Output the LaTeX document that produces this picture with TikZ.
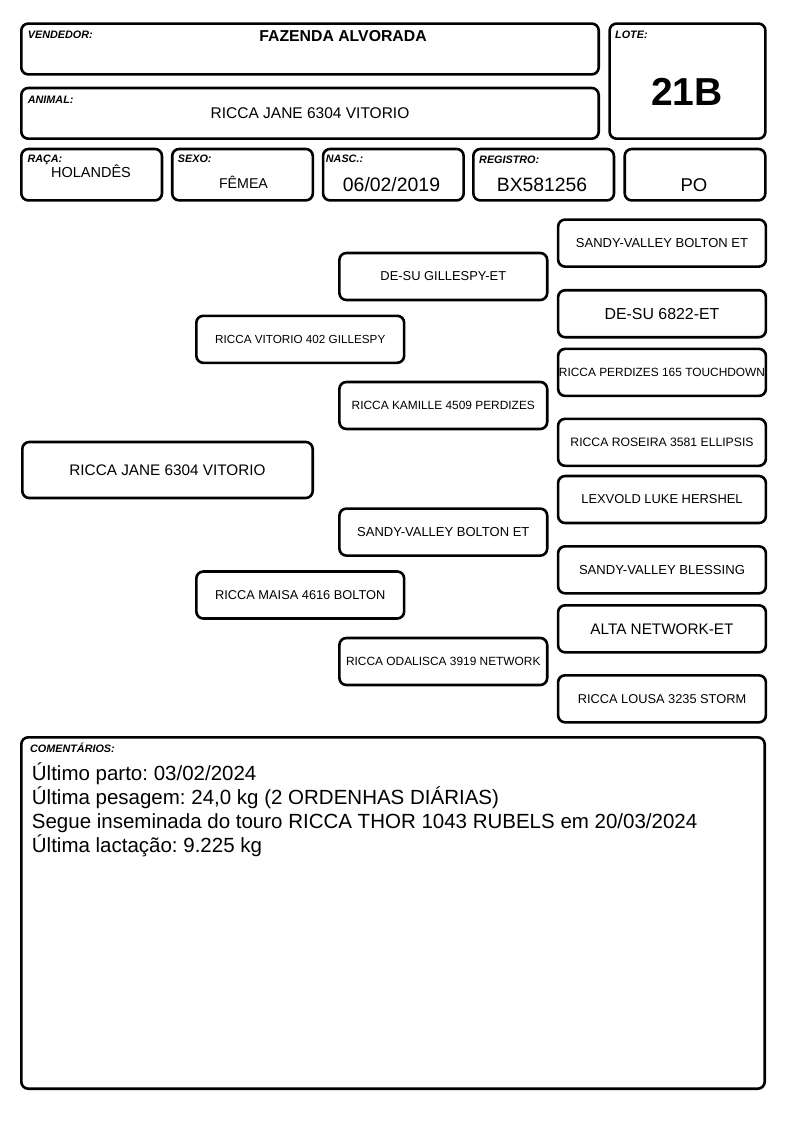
\documentclass[tikz,border=0pt]{standalone}
\usepackage{fontspec}
\setmainfont{Liberation Sans}
\frenchspacing
\newcommand{\fs}[1]{\fontsize{#1}{#1}\selectfont}
\tikzset{
  box/.style={draw, line width=2.6pt, rounded corners=7pt, inner sep=0pt, align=center},
  hbox/.style={box, minimum width=140.6pt, minimum height=51.4pt},
  pbox/.style={box, minimum width=207.8pt, minimum height=47pt},
  lbl/.style={anchor=base west, inner sep=0pt, font=\fs{10.8}\bfseries\itshape},
  val/.style={anchor=base, inner sep=0pt},
  com/.style={anchor=base west, inner sep=0pt, font=\fs{20.5}},
}
\begin{document}
\begin{tikzpicture}[x=1pt,y=-1pt]
\useasboundingbox (0,0) rectangle (794,1123);
% header
\node[box, minimum width=577.4pt, minimum height=50.8pt] (vend) at (310,49) {};
\node[box, minimum width=577.4pt, minimum height=50.7pt] (anim) at (310,113.35) {};
\node[box, minimum width=155.8pt, minimum height=115.1pt] (lote) at (687.5,81.15) {};
\node[hbox] (raca) at (91.65,174.7) {};
\node[hbox] (sexo) at (242.5,174.7) {};
\node[hbox] (nasc) at (393.35,174.7) {};
\node[hbox] (reg) at (543.65,174.7) {};
\node[hbox] (po) at (695,174.7) {};
\node[lbl] (lvend) at (27.7,39) {VENDEDOR:};
\node[lbl] (lanim) at (27.7,103.3) {ANIMAL:};
\node[lbl] (llote) at (615,39) {LOTE:};
\node[lbl] (lraca) at (27.3,162.5) {RAÇA:};
\node[lbl] (lsexo) at (177.7,162.5) {SEXO:};
\node[lbl] (lnasc) at (325.7,162.5) {NASC.:};
\node[lbl] (lreg) at (479,164) {REGISTRO:};
\node[val, font=\fs{15.8}\bfseries] (tvend) at (343,42) {FAZENDA ALVORADA};
\node[val, font=\fs{15.5}] (tanim) at (310,119) {RICCA JANE 6304 VITORIO};
\node[val, font=\fs{39}\bfseries] (tlote) at (687,105.5) {21B};
\node[val, font=\fs{14.5}] (traca) at (91,178) {HOLANDÊS};
\node[val, font=\fs{14.2}] (tsexo) at (243.5,189) {FÊMEA};
\node[val, font=\fs{19.4}] (tnasc) at (391.5,191.7) {06/02/2019};
\node[val, font=\fs{19.3}] (treg) at (542,192) {BX581256};
\node[val, font=\fs{18.5}] (tpo) at (694,192) {PO};
% pedigree
\node[box, minimum width=290.4pt, minimum height=56pt, font=\fs{15.3}] (a) at (167.5,470) {RICCA JANE 6304 VITORIO};
\node[pbox, font=\fs{11.7}] (s) at (300.25,339.3) {RICCA VITORIO 402 GILLESPY};
\node[pbox, font=\fs{12.8}] (d) at (300.25,595) {RICCA MAISA 4616 BOLTON};
\node[pbox, font=\fs{12.9}] (ss) at (443.3,276.5) {DE-SU GILLESPY-ET};
\node[pbox, font=\fs{11.9}] (sd) at (443.3,405.5) {RICCA KAMILLE 4509 PERDIZES};
\node[pbox, font=\fs{13}] (ds) at (443.3,532.1) {SANDY-VALLEY BOLTON ET};
\node[pbox, font=\fs{11.9}] (dd) at (443.3,661.5) {RICCA ODALISCA 3919 NETWORK};
\node[pbox, font=\fs{13}] (sss) at (662,243.1) {SANDY-VALLEY BOLTON ET};
\node[pbox, font=\fs{15.9}] (ssd) at (662,313.7) {DE-SU 6822-ET};
\node[pbox, font=\fs{11.9}] (sds) at (662,372.4) {RICCA PERDIZES 165 TOUCHDOWN};
\node[pbox, font=\fs{12.2}] (sdd) at (662,442.3) {RICCA ROSEIRA 3581 ELLIPSIS};
\node[pbox, font=\fs{12.9}] (dss) at (662,499.5) {LEXVOLD LUKE HERSHEL};
\node[pbox, font=\fs{13.1}] (dsd) at (662,569.8) {SANDY-VALLEY BLESSING};
\node[pbox, font=\fs{15.3}] (dds) at (662,628.8) {ALTA NETWORK-ET};
\node[pbox, font=\fs{12.8}] (ddd) at (662,698.8) {RICCA LOUSA 3235 STORM};
% comments
\node[box, minimum width=743.4pt, minimum height=351.4pt] (cbox) at (393,913) {};
\node[lbl] (lcom) at (30,752.7) {COMENTÁRIOS:};
\node[com] (c1) at (31.7,780.7) {Último parto: 03/02/2024};
\node[com] (c2) at (31.7,804.7) {Última pesagem: 24,0 kg (2 ORDENHAS DIÁRIAS)};
\node[com] (c3) at (31.7,828.7) {Segue inseminada do touro RICCA THOR 1043 RUBELS em 20/03/2024};
\node[com] (c4) at (31.7,852.7) {Última lactação: 9.225 kg};
\end{tikzpicture}
\end{document}
